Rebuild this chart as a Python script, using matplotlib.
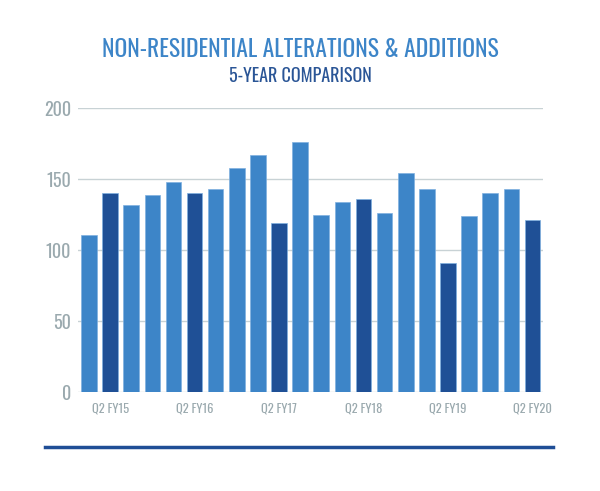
import matplotlib
matplotlib.use("Agg")
import matplotlib.pyplot as plt
from matplotlib.lines import Line2D

plt.rcParams['font.family'] = ['Oswald', 'DejaVu Sans']

# quarterly values, Q1 FY15 .. Q2 FY20
values = [111, 140, 132, 139, 148, 140, 143, 158, 167, 119, 176,
          125, 134, 136, 126, 154, 143, 91, 124, 140, 143, 121]
# Q2 quarters highlighted in dark blue
highlight = [1, 5, 9, 13, 17, 21]
tick_labels = ['Q2 FY15', 'Q2 FY16', 'Q2 FY17', 'Q2 FY18', 'Q2 FY19', 'Q2 FY20']

light = '#3d85c8'
dark = '#1f5096'
grey = '#9aa9ae'

fig = plt.figure(figsize=(6.0, 4.91), dpi=100)
ax = fig.add_axes([0.13, 0.2016, 0.775, 0.578])

x = list(range(len(values)))
colors = [dark if i in highlight else light for i in x]
ax.bar(x, values, width=0.74, color=colors, edgecolor='#7fb0e0',
       linewidth=0.5, zorder=2)

ax.set_ylim(0, 200)
ax.set_xlim(-0.52, 21.5)
ax.set_yticks([0, 50, 100, 150, 200])
ax.set_xticks(highlight)
ax.set_xticklabels(tick_labels)
ax.grid(axis='y', color='#c8d2d5', linewidth=1, zorder=0)
for s in ax.spines.values():
    s.set_visible(False)
ax.tick_params(axis='both', length=0, colors=grey)
ax.tick_params(axis='y', labelsize=13, pad=5)
ax.tick_params(axis='x', labelsize=9, pad=7)

fig.text(0.5, 0.899, 'NON-RESIDENTIAL ALTERATIONS & ADDITIONS',
         ha='center', va='center', fontsize=17, color='#3d85c8')
fig.text(0.5, 0.845, '5-YEAR COMPARISON',
         ha='center', va='center', fontsize=13, color='#2a5596')

fig.add_artist(Line2D([45 / 600, 553 / 600], [1 - 447 / 491, 1 - 447 / 491],
                      transform=fig.transFigure, color='#1f4e96', linewidth=2.5))

fig.savefig('out.png', dpi=100)
